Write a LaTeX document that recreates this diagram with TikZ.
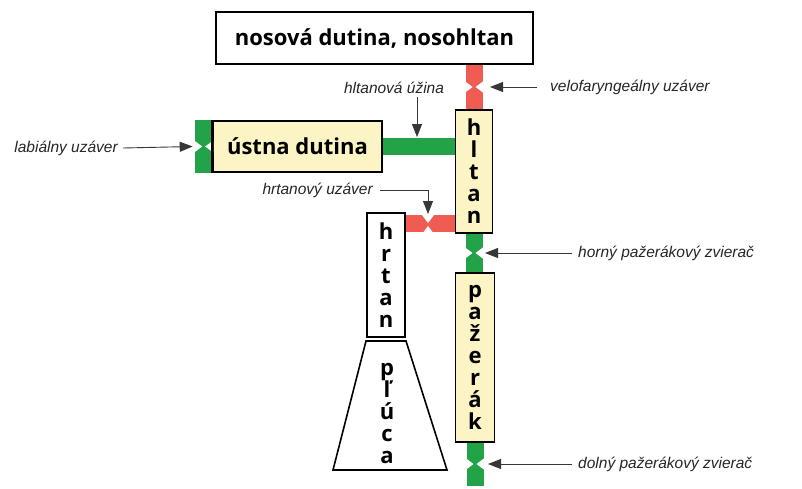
\documentclass[tikz,border=0pt]{standalone}
\usepackage{fontspec}
\setmainfont{Open Sans}
\newfontfamily\labelfont{Liberation Sans}
\usetikzlibrary{arrows.meta,calc,backgrounds}

\definecolor{tractgreen}{RGB}{34,163,72}
\definecolor{tractred}{RGB}{240,92,82}
\definecolor{organfill}{RGB}{252,244,196}
\definecolor{pointergray}{RGB}{55,55,55}

\tikzset{
  box/.style={draw=black, line width=1.6pt, inner sep=0pt,
    font=\fontsize{22}{22}\selectfont\bfseries},
  organ/.style={box, fill=organfill},
  plainbox/.style={box, fill=white},
  vtext/.style={align=center},
  greenbar/.style={draw=tractgreen, line width=17pt},
  redbar/.style={draw=tractred, line width=17pt},
  pointer/.style={draw=pointergray, line width=0.9pt,
    -{Triangle[length=13pt,width=10pt]}},
  lbl/.style={font=\labelfont\itshape\fontsize{15.5}{18}\selectfont,
    text=black!85, inner sep=0pt},
  % closure notch on a vertical channel (cut in from left and right)
  vnotch/.pic={
    \fill[white] (-9.5,-6) -- (-1.5,0) -- (-9.5,6) -- cycle;
    \fill[white] (9.5,-6) -- (1.5,0) -- (9.5,6) -- cycle;
  },
  % closure notch on a horizontal channel (cut in from top and bottom)
  hnotch/.pic={
    \fill[white] (-6,-9.5) -- (0,-1.5) -- (6,-9.5) -- cycle;
    \fill[white] (-6,9.5) -- (0,1.5) -- (6,9.5) -- cycle;
  },
}

\begin{document}
\begin{tikzpicture}[x=1pt,y=-1pt]
  \useasboundingbox (0,0) rectangle (802,488);

  % cavities and organs
  \node[plainbox, minimum width=317pt, minimum height=52pt] (nasal) at (374.5,38) {nosová dutina, nosohltan};
  \node[organ, minimum width=169pt, minimum height=51pt] (oral) at (297.5,146.5) {ústna dutina};
  \node[organ, vtext, minimum width=37pt, minimum height=123pt] (pharynx) at (474,171.5) {h\\l\\t\\a\\n};
  \node[organ, vtext, minimum width=39pt, minimum height=169pt] (esoph) at (475,357.5) {p\\a\\ž\\e\\r\\á\\k};
  \node[plainbox, vtext, minimum width=38pt, minimum height=124pt] (larynx) at (386,275) {h\\r\\t\\a\\n};
  \draw[line width=1.6pt, fill=white] (366,341) -- (406,341) -- (447,470) -- (333,470) -- cycle;
  \node[vtext, inner sep=0pt, font=\fontsize{22}{22}\selectfont\bfseries] (lungs) at (387,413) {p\\ľ\\ú\\c\\a};

  % channels between the cavities
  \coordinate (esophend) at (475,486);
  \coordinate (lipcap) at ($(oral.west)+(-8.5,0)$);
  \coordinate (larynxport) at ($(larynx.north east)+(0,11.5)$);
  \begin{scope}[on background layer]
    \fill[white] (0,0) rectangle (802,488);
    \draw[redbar] (nasal.south -| pharynx.north) -- (pharynx.north);
    \draw[greenbar] (oral.east) -- (oral.east -| pharynx.west);
    \draw[redbar] (larynxport) -- (larynxport -| pharynx.west);
    \draw[greenbar] (pharynx.south) -- (pharynx.south |- esoph.north);
    \draw[greenbar] (esoph.south -| esophend) -- (esophend);
    \draw[greenbar] ($(oral.north west)+(-8.5,0)$) -- ($(oral.south west)+(-8.5,0)$);
  \end{scope}

  % closures
  \coordinate (velum) at (474,87);
  \coordinate (upperspc) at (474,253);
  \coordinate (lowerspc) at (475,464);
  \coordinate (glottis) at (428,224.5);
  \pic at (velum) {vnotch};
  \pic at (upperspc) {vnotch};
  \pic at (lowerspc) {vnotch};
  \pic at (lipcap) {vnotch};
  \pic at (glottis) {hnotch};
  \draw[line width=1.6pt] (oral.north west) -- (oral.south west);

  % labels and pointers
  \node[lbl, anchor=west] (velolbl) at (550,87) {velofaryngeálny uzáver};
  \draw[pointer] ([xshift=-13pt]velolbl.west) -- ([xshift=16pt]velum);

  \node[lbl, anchor=west] (upperlbl) at (578,253) {horný pažerákový zvierač};
  \draw[pointer] ([xshift=-6pt]upperlbl.west) -- ([xshift=11pt]upperspc);

  \node[lbl, anchor=west] (lowerlbl) at (578,464) {dolný pažerákový zvierač};
  \draw[pointer] ([xshift=-6pt]lowerlbl.west) -- ([xshift=13pt]lowerspc);

  \node[lbl, anchor=east] (liplbl) at (118,148) {labiálny uzáver};
  \draw[pointer] ([xshift=5pt]liplbl.east) -- ([xshift=-11pt]lipcap);

  \node[lbl] (isthmuslbl) at (394,88) {hltanová úžina};
  \coordinate (isthmustop) at (417,97);
  \draw[pointer] (isthmustop) -- (isthmustop |- 0,137);

  \node[lbl, anchor=east] (glottislbl) at (373,190) {hrtanový uzáver};
  \draw[pointer] ([xshift=7pt]glottislbl.east) -- (glottislbl.east -| glottis) -- (glottis |- 0,214);
\end{tikzpicture}
\end{document}
